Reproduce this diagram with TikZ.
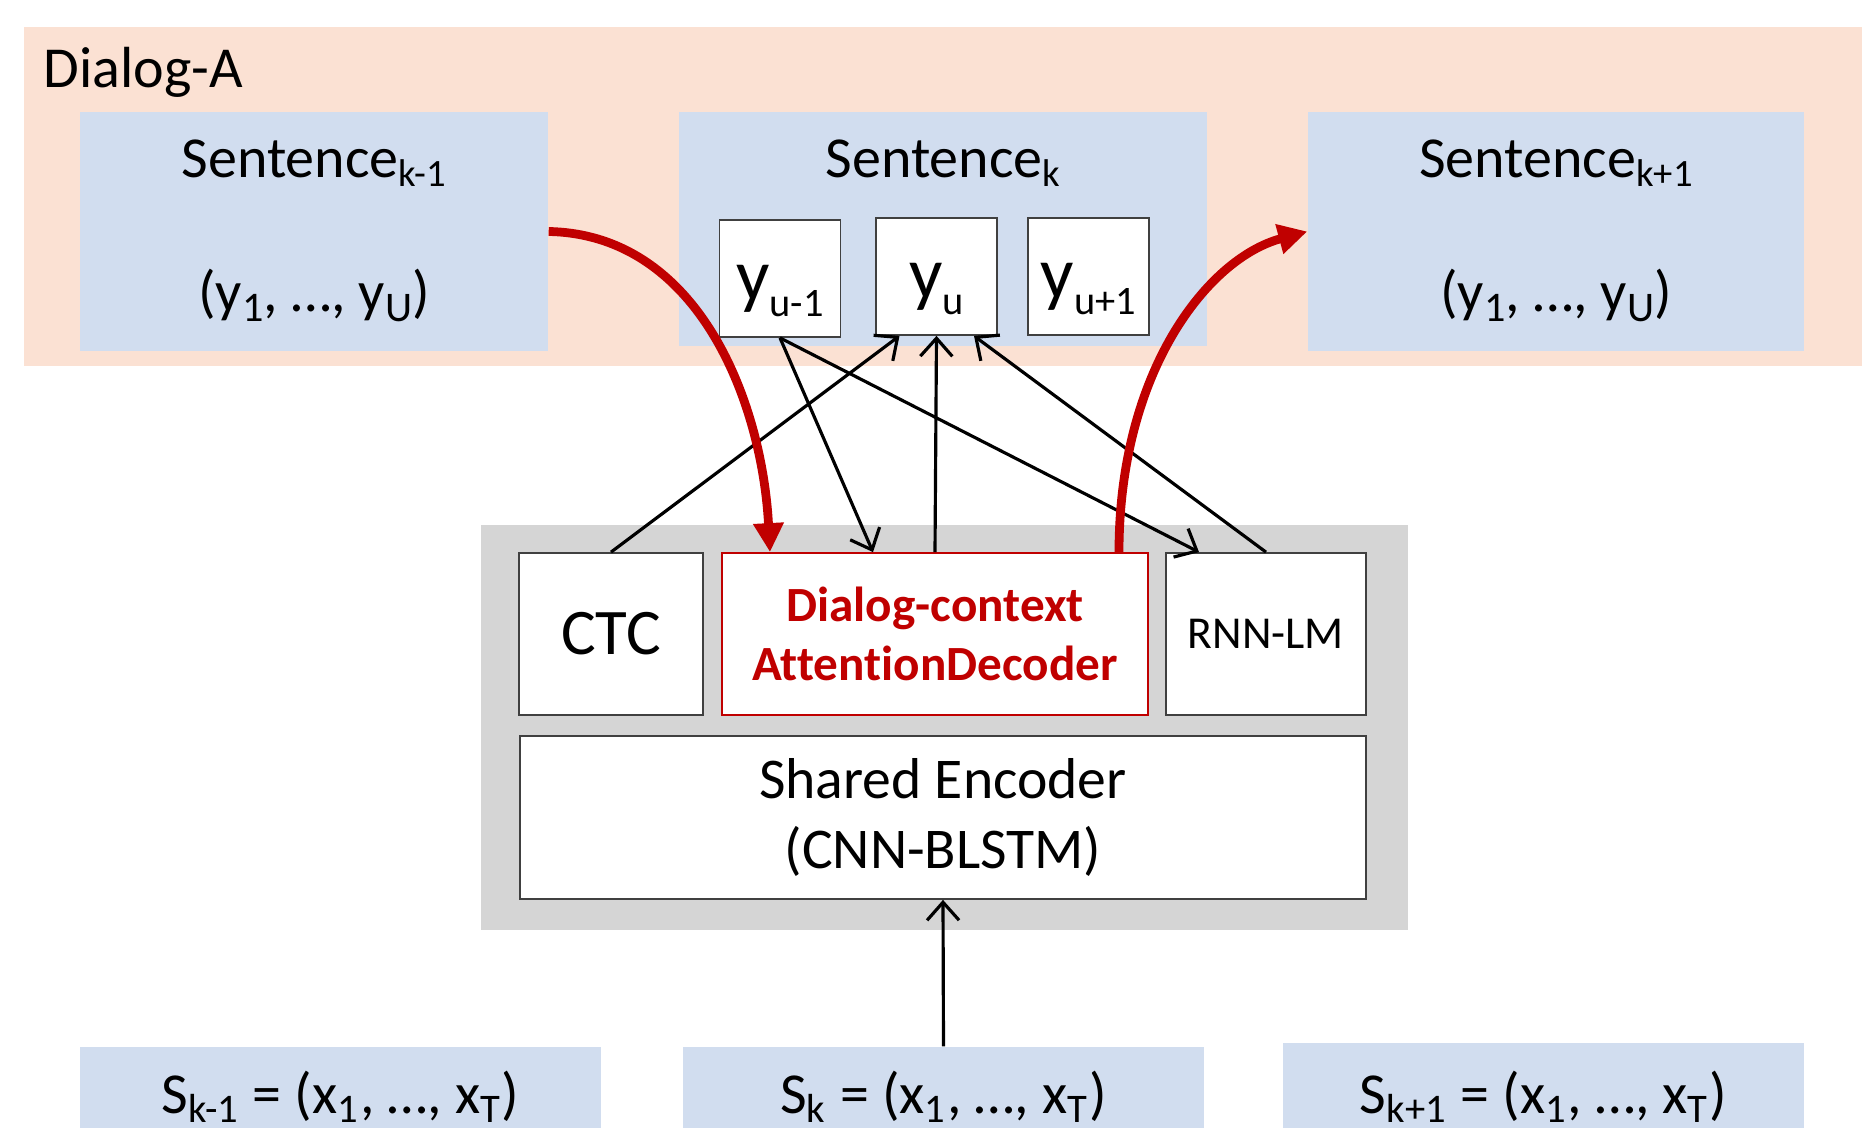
\documentclass[tikz,border=0pt]{standalone}
\usepackage{fontspec}
\setmainfont{Carlito}[Ligatures=NoCommon]
\usepackage{xcolor}
\definecolor{dialogbg}{RGB}{251,225,211}
\definecolor{sentfill}{RGB}{209,221,239}
\definecolor{modelbg}{RGB}{213,213,213}
\definecolor{ctxred}{RGB}{192,0,0}
\usetikzlibrary{arrows.meta}
\usetikzlibrary{positioning}
% lowered subscript: size, drop, text
\newcommand{\lsub}[3]{\raisebox{-#2}{\fontsize{#1}{#1}\selectfont #3}}

\begin{document}
\begin{tikzpicture}[x=0.1mm, y=-0.1mm,
  sent/.style={fill=sentfill, inner sep=0pt},
  tok/.style={draw=black!75, fill=white, line width=0.5pt, inner sep=0pt, minimum width=12.1mm, minimum height=11.7mm, text height=5.5mm, text depth=1mm, font=\fontsize{21}{24}\selectfont},
  part/.style={draw=black!75, fill=white, line width=0.5pt, inner sep=0pt, minimum height=16.2mm, align=center},
  big/.style={font=\fontsize{16.5}{20}\selectfont},
  lnk/.style={line width=0.9pt, -{Straight Barb[length=1.8mm,width=3.2mm]}},
  ctx/.style={draw=ctxred, line width=2.5pt, -{Triangle[length=2.9mm,width=2.9mm]}}]

  \clip (0,0) rectangle (1862,1128);

  % Dialog
  \fill[dialogbg] (24,27) rectangle (1880,366);
  \node[big, anchor=base west, inner sep=0pt] (dlg) at (43,88) {Dialog-A};

  % Sentences
  \node[sent, minimum width=46.8mm, minimum height=23.9mm] (sprev) at (314,231.5) {};
  \node[sent, minimum width=52.8mm, minimum height=23.4mm] (scur) at (943,229) {};
  \node[sent, minimum width=49.6mm, minimum height=23.9mm] (snext) at (1556,231.5) {};

  \node[big, anchor=base] (tprev) at (314,178) {Sentence\lsub{11}{2.5pt}{k-1}};
  \node[big, anchor=base] (tcur) at (943,178) {Sentence\lsub{11}{2.5pt}{k}};
  \node[big, anchor=base] (tnext) at (1556,178) {Sentence\lsub{11}{2.5pt}{k+1}};
  \node[big, anchor=base] (uprev) at (314,311) {(y\lsub{12}{3pt}{1}, \ldots, y\lsub{12}{3pt}{U})};
  \node[big, anchor=base] (unext) at (1556,311) {(y\lsub{12}{3pt}{1}, \ldots, y\lsub{12}{3pt}{U})};

    % tokens
    \node[tok] (yprev) at (780,278.5) {y\lsub{11.5}{4.5pt}{u-1}};
    \node[tok] (ycur) at (936.5,276.5) {y\lsub{11.5}{4.5pt}{u}};
    \node[tok] (ynext) at (1088.5,276.5) {y\lsub{11.5}{4.5pt}{u+1}};

  % Model
  \fill[modelbg] (481,525) rectangle (1408,930);
  \node[part, minimum width=18.4mm, font=\fontsize{18.5}{22}\selectfont] (ctc) at (611,634) {CTC};
  \node[part, draw=ctxred, minimum width=42.6mm, text=ctxred, font=\fontsize{14}{17}\selectfont\bfseries] (dec) at (935,634) {Dialog-context\\AttentionDecoder};
  \node[part, minimum width=20mm, font=\fontsize{13}{16}\selectfont] (rnn) at (1266,634) {RNN-LM};
  \node[part, minimum width=84.6mm, minimum height=16.3mm, font=\fontsize{16.4}{20}\selectfont] (enc) at (943,817.5) {Shared Encoder\\(CNN-BLSTM)};

  % Inputs
  \node[sent, minimum width=52.1mm, minimum height=13mm] (xprev) at (340.5,1112) {};
  \node[sent, minimum width=52.1mm, minimum height=13mm] (xcur) at (943.5,1112) {};
  \node[sent, minimum width=52.1mm, minimum height=13.8mm] (xnext) at (1543.5,1112) {};
  \node[big, anchor=base] (iprev) at (340.5,1113) {S\textsubscript{k-1} = (x\textsubscript{1}, \ldots, x\textsubscript{T})};
  \node[big, anchor=base] (icur) at (943.5,1113) {S\textsubscript{k} = (x\textsubscript{1}, \ldots, x\textsubscript{T})};
  \node[big, anchor=base] (inext) at (1543.5,1113) {S\textsubscript{k+1} = (x\textsubscript{1}, \ldots, x\textsubscript{T})};

  % Links
  \draw[lnk] (ctc.north) -- ([xshift=-3.7mm]ycur.south);
  \draw[lnk] (yprev.south) -- ([xshift=-6.2mm]dec.north);
  \draw[lnk] (yprev.south) -- ([xshift=-6.7mm]rnn.north);
  \draw[lnk] (dec.north) -- (ycur.south);
  \draw[lnk] (rnn.north) -- ([xshift=3.75mm]ycur.south);
  \draw[lnk] (xcur.north) -- (enc.south);

  % context
  \draw[ctx] (sprev.east) .. controls +(150,3) and +(-8,-150) .. ([xshift=-16.5mm]dec.north);
  \draw[ctx] ([xshift=18.4mm]dec.north) .. controls +(0,-180) and +(-100,27) .. (snext.west);

\end{tikzpicture}
\end{document}
